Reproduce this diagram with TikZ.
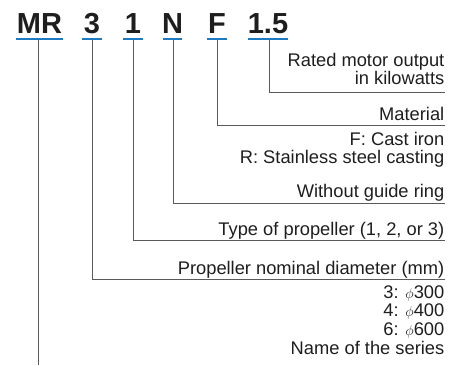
\documentclass[tikz,border=0pt]{standalone}
\usepackage{fontspec}
\setmainfont{Liberation Sans}
\definecolor{ublue}{HTML}{1F7BC1}
\definecolor{cgray}{HTML}{5A5A5A}
\definecolor{txt}{HTML}{1E1E1E}
\newcommand{\smallphi}{{\fontsize{15}{16}\selectfont$\phi$}}
\begin{document}
\begin{tikzpicture}[x=1pt,y=-1pt,
  code/.style={font=\fontsize{29}{31}\selectfont\bfseries, text=txt, anchor=base, inner sep=0pt},
  desc/.style={font=\fontsize{18.3}{20}\selectfont, text=txt, anchor=base east, inner sep=0pt},
  uline/.style={ublue, line width=2pt},
  conn/.style={cgray, line width=0.9pt}]
\useasboundingbox (0,0) rectangle (463,365);
% code letters
\node[code] (mr) at (39.5,33) {MR};
\node[code] (c3) at (92,33) {3};
\node[code] (c1) at (133,33) {1};
\node[code] (cn) at (172.5,33) {N};
\node[code] (cf) at (217,33) {F};
\node[code] (c15) at (268,33) {1.5};
% underlines
\draw[uline] (16,39) -- (63,39);
\draw[uline] (82,39) -- (102,39);
\draw[uline] (123,39) -- (143,39);
\draw[uline] (163,39) -- (182,39);
\draw[uline] (207,39) -- (227,39);
\draw[uline] (248,39) -- (288,39);
% connector anchors
\coordinate (umr) at (38,40);
\coordinate (u3) at (92,40);
\coordinate (u1) at (133,40);
\coordinate (un) at (173,40);
\coordinate (uf) at (217,40);
\coordinate (u15) at (269,40);
\coordinate (emr) at (38,365);
\coordinate (e3) at (445,279.5);
\coordinate (e1) at (445,240.5);
\coordinate (en) at (445,203);
\coordinate (ef) at (445,125.5);
\coordinate (e15) at (445,92);
% descriptions
\node[desc] (d15a) at (444.5,66) {Rated motor output};
\node[desc] (d15b) at (444.5,84) {in kilowatts};
\node[desc] (dfa) at (444.5,120) {Material};
\node[desc] (dfb) at (444.5,145) {F: Cast iron};
\node[desc] (dfc) at (444.5,163.5) {R: Stainless steel casting};
\node[desc] (dn) at (444.5,197) {Without guide ring};
\node[desc] (d1) at (444.5,235) {Type of propeller (1, 2, or 3)};
\node[desc] (d3a) at (444.5,274) {Propeller nominal diameter (mm)};
\node[desc] (d3b) at (444.5,298) {3: \smallphi300};
\node[desc] (d3c) at (444.5,316.5) {4: \smallphi400};
\node[desc] (d3d) at (444.5,335) {6: \smallphi600};
\node[desc] (dmr) at (444.5,354) {Name of the series};
% connectors
\draw[conn] (u15) |- (e15);
\draw[conn] (uf) |- (ef);
\draw[conn] (un) |- (en);
\draw[conn] (u1) |- (e1);
\draw[conn] (u3) |- (e3);
\draw[conn] (umr) -- (emr);
\end{tikzpicture}
\end{document}
